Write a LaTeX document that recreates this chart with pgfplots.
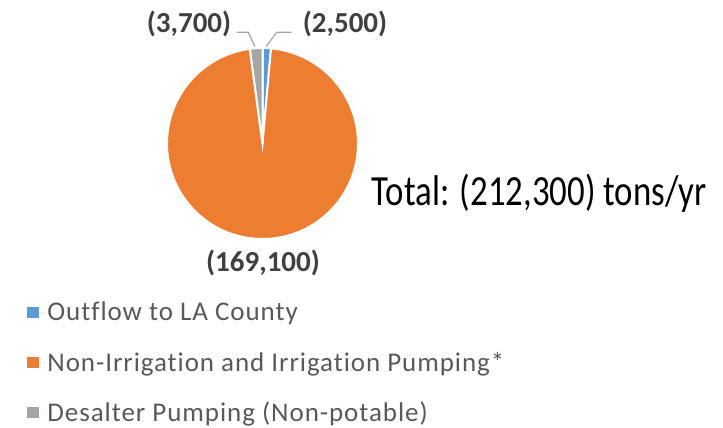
\documentclass[border=0pt]{standalone}
\usepackage{graphicx}
\usepackage{pgfplots}
\usepackage{pgfplotstable}
\pgfplotsset{compat=1.18}
\usepackage{fontspec}
\setmainfont{Carlito}[Ligatures=NoCommon]
\newfontfamily\legfont{Carlito}[LetterSpace=3.5,Ligatures=NoCommon]
\definecolor{cblue}{HTML}{5B9BD5}
\definecolor{corange}{HTML}{ED7D31}
\definecolor{cgray}{HTML}{A5A5A5}
\definecolor{lbl}{HTML}{404040}
\definecolor{leg}{HTML}{595959}
\definecolor{leader}{HTML}{A6A6A6}
\pgfplotstableread{
label value
Outflow 2500
Pumping 169100
Desalter 3700
}\piedata
\pgfplotstablegetelem{0}{value}\of\piedata \let\va\pgfplotsretval
\pgfplotstablegetelem{1}{value}\of\piedata \let\vb\pgfplotsretval
\pgfplotstablegetelem{2}{value}\of\piedata \let\vc\pgfplotsretval
\pgfkeys{/pgf/fpu=true,/pgf/fpu/output format=fixed}
\pgfmathsetmacro\tot{\va+\vb+\vc}
\pgfmathsetmacro\aA{90}
\pgfmathsetmacro\aB{\aA-360*\va/\tot}
\pgfmathsetmacro\aC{\aB-360*\vb/\tot}
\pgfmathsetmacro\aD{\aC-360*\vc/\tot}
\pgfkeys{/pgf/fpu=false}
\begin{document}%
\begin{tikzpicture}
\begin{axis}[hide axis, scale only axis, width=723pt, height=428pt,
  xmin=0, xmax=723, ymin=-428, ymax=0, clip=false,
  legend style={at={(axis cs:26.7,-301)}, anchor=north west, draw=none, fill=none,
    font=\fontsize{27}{32}\legfont, text=leg, row sep=27.5pt, inner sep=0pt,
    nodes={inner sep=1pt}},
  legend cell align=left,
  legend image code/.code={\fill[#1] (0pt,-5.7pt) rectangle (11.6pt,5.7pt); \path (0pt,0pt) -- (19.5pt,0pt);},
]
\addlegendimage{fill=cblue, draw=none}
\addlegendentry{Outflow to LA County}
\addlegendimage{fill=corange, draw=none}
\addlegendentry{Non-Irrigation and Irrigation Pumping*}
\addlegendimage{fill=cgray, draw=none}
\addlegendentry{Desalter Pumping (Non-potable)}
% slices
\filldraw[fill=cblue, draw=white, line width=2pt] (axis cs:262.5,-143.5) -- ++(\aA:95.5pt) arc[start angle=\aA, end angle=\aB, radius=95.5pt] -- cycle;
\filldraw[fill=corange, draw=white, line width=2pt] (axis cs:262.5,-143.5) -- ++(\aB:95.5pt) arc[start angle=\aB, end angle=\aC, radius=95.5pt] -- cycle;
\filldraw[fill=cgray, draw=white, line width=2pt] (axis cs:262.5,-143.5) -- ++(\aC:95.5pt) arc[start angle=\aC, end angle=\aD, radius=95.5pt] -- cycle;
% leader lines
\draw[leader, line width=1.2pt] (axis cs:236.7,-32.3) -- (axis cs:248.3,-32.3) -- (axis cs:255,-46.7);
\draw[leader, line width=1.2pt] (axis cs:266,-46.7) -- (axis cs:276.7,-32.3) -- (axis cs:291.7,-32.3);
% data labels
\node[font=\fontsize{29}{34}\selectfont\bfseries, text=lbl] at (axis cs:189,-24) {(3,700)};
\node[font=\fontsize{29}{34}\selectfont\bfseries, text=lbl] at (axis cs:345,-24) {(2,500)};
\node[font=\fontsize{29}{34}\selectfont\bfseries, text=lbl] at (axis cs:263,-263) {(169,100)};
% total
\node[font=\fontsize{43}{50}\selectfont, text=black, anchor=base west, inner sep=0pt] at (axis cs:371.7,-206) {\scalebox{0.81}[1]{Total: (212,300) tons/yr}};
\end{axis}
\pgfresetboundingbox
\path (current axis.south west) rectangle (current axis.north east);
\end{tikzpicture}%
\end{document}
